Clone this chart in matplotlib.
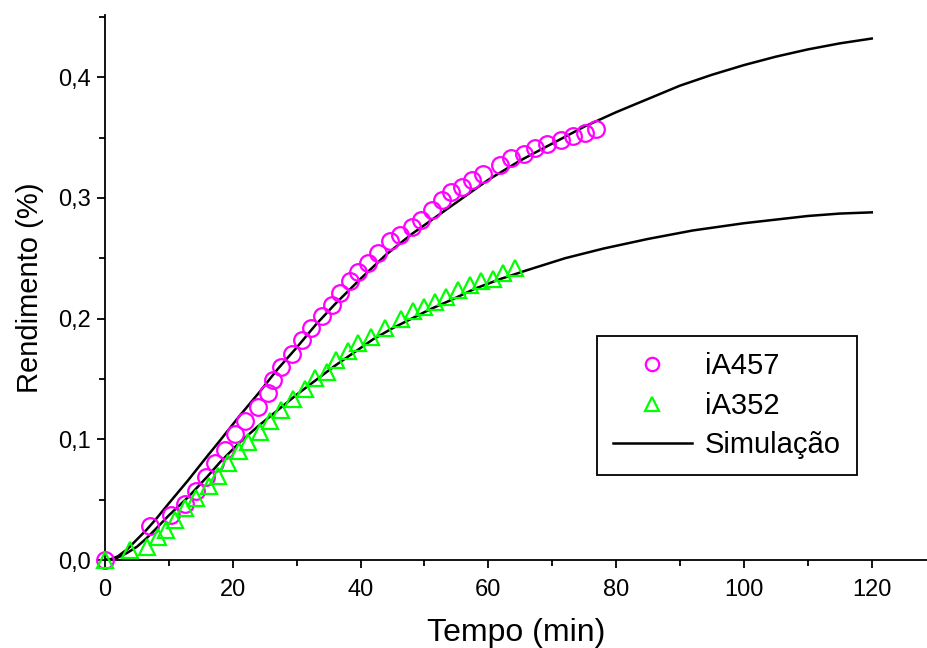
import numpy as np
from matplotlib import pyplot as plt
from matplotlib.ticker import MultipleLocator, FuncFormatter

# iA457 (circles)
t_457 = [0, 7.1, 10.3, 12.5, 14.3, 15.8, 17.2, 18.8, 20.3, 21.9, 24.0, 25.5, 26.3,
         27.6, 29.2, 30.8, 32.3, 33.9, 35.5, 36.8, 38.3, 39.6, 41.2, 42.8, 44.6,
         46.2, 48.0, 49.5, 51.1, 52.7, 54.2, 55.8, 57.4, 59.2, 61.8, 63.6, 65.5,
         67.3, 69.1, 71.4, 73.3, 75.1, 76.8]
y_457 = [0, 0.028, 0.037, 0.046, 0.057, 0.069, 0.080, 0.091, 0.104, 0.115, 0.127,
         0.138, 0.149, 0.160, 0.171, 0.182, 0.192, 0.202, 0.211, 0.221, 0.231,
         0.239, 0.246, 0.254, 0.264, 0.269, 0.276, 0.282, 0.290, 0.298, 0.305,
         0.309, 0.315, 0.320, 0.327, 0.333, 0.336, 0.341, 0.345, 0.348, 0.351,
         0.354, 0.357]

# iA352 (triangles)
t_352 = [0, 3.9, 6.5, 8.3, 9.6, 11.0, 12.5, 14.3, 16.2, 17.7, 19.3, 20.9, 22.4,
         24.2, 25.8, 27.6, 29.5, 31.3, 32.9, 34.7, 36.2, 38.1, 39.6, 41.7, 43.8,
         46.3, 48.2, 49.9, 51.6, 53.4, 55.3, 57.1, 58.9, 60.7, 62.3, 64.1]
y_352 = [0, 0.008, 0.011, 0.019, 0.025, 0.033, 0.043, 0.051, 0.061, 0.070, 0.080,
         0.090, 0.098, 0.106, 0.115, 0.124, 0.133, 0.142, 0.151, 0.156, 0.166,
         0.173, 0.180, 0.185, 0.192, 0.200, 0.206, 0.210, 0.214, 0.218, 0.224,
         0.228, 0.231, 0.233, 0.238, 0.242]

# Simulation curves
t_sim_a = [0, 1, 2, 3.5, 5, 6.5, 8, 10, 13, 16, 18, 21, 24, 27, 30, 33, 36, 40, 44,
           48, 52, 56, 60, 65, 70, 75, 80, 85, 90, 95, 100, 105, 110, 115, 120]
y_sim_a = [0, 0.0008, 0.003, 0.009, 0.017, 0.025, 0.034, 0.047, 0.066, 0.086, 0.099,
           0.119, 0.138, 0.158, 0.176, 0.195, 0.212, 0.233, 0.253, 0.270, 0.285,
           0.300, 0.315, 0.331, 0.345, 0.359, 0.371, 0.382, 0.393, 0.402, 0.410,
           0.417, 0.423, 0.428, 0.432]
t_sim_b = [0, 1, 2, 3.5, 5, 6.5, 8, 10, 13, 16, 18, 21, 24, 27, 30, 33, 36, 39, 42,
           45, 48, 51, 54, 58, 62, 66, 72, 78, 85, 92, 100, 105, 110, 115, 120]
y_sim_b = [0, 0.0006, 0.002, 0.006, 0.011, 0.018, 0.026, 0.037, 0.052, 0.069, 0.081,
           0.097, 0.111, 0.124, 0.137, 0.149, 0.161, 0.172, 0.183, 0.192, 0.200,
           0.208, 0.215, 0.225, 0.233, 0.240, 0.250, 0.258, 0.266, 0.273, 0.279,
           0.282, 0.285, 0.287, 0.288]

plt.rcParams['font.family'] = ['Liberation Sans', 'DejaVu Sans']

fig = plt.figure(figsize=(9.28, 6.48), dpi=100)
ax = fig.add_axes([105 / 928, 88 / 648, 823 / 928, 545 / 648])

ax.plot(t_sim_a, y_sim_a, color='black', lw=1.8, label='Simulação', zorder=2)
ax.plot(t_sim_b, y_sim_b, color='black', lw=1.8, zorder=2)
ax.plot(t_457, y_457, 'o', ms=12, mfc='none', mec='#ff00ff', mew=1.6,
        label='iA457', clip_on=False, zorder=3)
ax.plot(t_352, y_352, '^', ms=12, mfc='none', mec='#00ff00', mew=1.6,
        label='iA352', clip_on=False, zorder=3)

ax.set_xlim(0, 128.8)
ax.set_ylim(0, 0.4515)
ax.spines['top'].set_visible(False)
ax.spines['right'].set_visible(False)
for s in ('left', 'bottom'):
    ax.spines[s].set_linewidth(1.3)

ax.xaxis.set_major_locator(MultipleLocator(20))
ax.xaxis.set_minor_locator(MultipleLocator(10))
ax.yaxis.set_major_locator(MultipleLocator(0.1))
ax.yaxis.set_minor_locator(MultipleLocator(0.05))
ax.yaxis.set_major_formatter(FuncFormatter(lambda v, p: f'{v:.1f}'.replace('.', ',')))
ax.tick_params(which='major', direction='out', length=6, width=1.3)
ax.tick_params(which='minor', direction='out', length=4, width=1.3)
ax.tick_params(axis='y', labelsize=17, pad=4)
ax.tick_params(axis='x', labelsize=17, pad=8)

ax.set_xlabel('Tempo (min)', fontsize=23, labelpad=12)
ax.set_ylabel('Rendimento (%)', fontsize=21, labelpad=10)

handles, labels = ax.get_legend_handles_labels()
order = [1, 2, 0]
leg = ax.legend([handles[i] for i in order], [labels[i] for i in order],
                loc='upper left', bbox_to_anchor=(597 / 928, 1 - 336 / 648),
                bbox_transform=fig.transFigure, fontsize=21, frameon=True,
                fancybox=False, edgecolor='black', framealpha=1,
                borderaxespad=0, handlelength=2.7, handletextpad=0.45,
                labelspacing=0.4, borderpad=0.55, markerscale=0.8)
leg.get_frame().set_linewidth(1.3)

fig.savefig('out.png', dpi=100)
